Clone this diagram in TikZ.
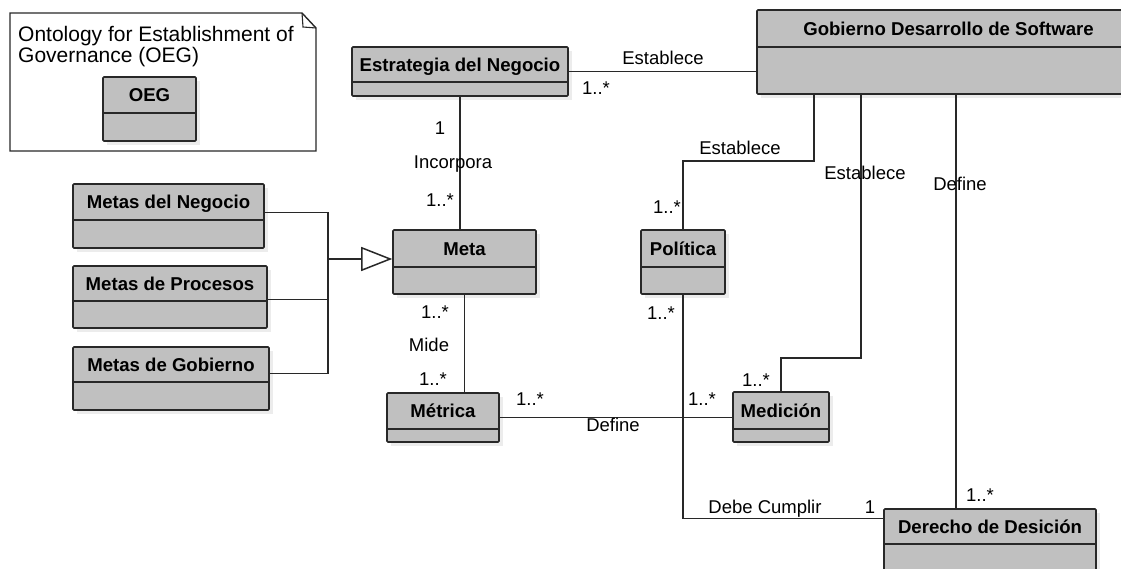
\documentclass[tikz,border=0pt]{standalone}
\usepackage{fontspec}
\setmainfont{Liberation Sans}
\usetikzlibrary{arrows.meta,calc,fit}
\definecolor{classfill}{RGB}{192,192,192}
\definecolor{ink}{RGB}{40,40,40}
\definecolor{shadowc}{RGB}{236,236,236}
\tikzset{
  classbox/.style={draw=ink, fill=classfill, line width=1.6pt, inner sep=0pt, rounded corners=1pt},
  classtitle/.style={font=\fontsize{18.6}{20}\selectfont\bfseries, inner sep=0pt, text height=13.4pt, text depth=0pt},
  lab/.style={font=\fontsize{18.5}{20}\selectfont, inner sep=0pt, text height=13.3pt, text depth=0pt},
  notetext/.style={font=\fontsize{21}{21}\selectfont, inner sep=0pt, anchor=base west},
  conn/.style={draw=ink, line width=1.3pt},
  sep/.style={draw=ink, line width=1.6pt}
}
\newcommand\umlclass[7]{%
  \fill[shadowc] ({#2+4},{#3+4}) rectangle ({#4+4},{#5+4});
  \node[classbox, fit={(#2,#3) (#4,#5)}] (#1) {};
  \draw[sep] (#2,#6) -- (#4,#6);
  \node[classtitle] (#1-t) at ({(#2+#4)/2},{(#3+#6)/2}) {#7};
}
\begin{document}
\begin{tikzpicture}[x=1pt,y=-1pt]
\useasboundingbox (0,0) rectangle (1121,569);
\clip (0,0) rectangle (1121,569);
\fill[white] (0,0) rectangle (1121,569);

% note
\draw[ink, line width=1.4pt] (10,13) -- (302,13) -- (316,28) -- (316,151) -- (10,151) -- cycle;
\draw[ink, line width=1.1pt] (302,13) -- (303,27) -- (316,28);
\node[notetext] (note1) at (18,42) {Ontology for Establishment of};
\node[notetext] (note2) at (18,63) {Governance (OEG)};
\umlclass{oeg}{103}{77}{196}{141}{113}{OEG}

% classes
\umlclass{est}{352}{47}{568}{96}{82}{Estrategia del Negocio}
\umlclass{gob}{757}{10}{1140}{94}{47}{Gobierno Desarrollo de Software}
\umlclass{mneg}{73}{184}{264}{248}{220}{Metas del Negocio}
\umlclass{mpro}{73}{266}{267}{328}{301}{Metas de Procesos}
\umlclass{mgob}{73}{347}{269}{410}{382}{Metas de Gobierno}
\umlclass{meta}{393}{230}{536}{294}{267}{Meta}
\umlclass{pol}{641}{230}{725}{294}{267}{Política}
\umlclass{metr}{387}{393}{499}{442}{429}{Métrica}
\umlclass{med}{733}{392}{829}{442}{429}{Medición}
\umlclass{der}{884}{509}{1096}{600}{544}{Derecho de Desición}

% coordinates for bends
\coordinate (jn) at (328,259);
\coordinate (b1) at (814,161);
\coordinate (b2) at (861,358);
\coordinate (b3) at (956,300);
\coordinate (pneg) at ($(mneg.north east)+(0,29)$);
\coordinate (ppro) at ($(mpro.north east)+(0,34)$);
\coordinate (pgob) at ($(mgob.north east)+(0,27)$);
\coordinate (pder) at ($(der.north west)+(0,10)$);

% Estrategia -- Gobierno
\draw[conn] (est.east) -- (est.east -| gob.west);
\node[lab] (l1) at (663,58) {Establece};
\node[lab] (m1) at (596,88) {1..*};

% Estrategia -- Meta
\draw[conn] (est.south) -- (est.south |- meta.north);
\node[lab] (m2) at (440,128) {1};
\node[lab] (l2) at (453,162) {Incorpora};
\node[lab] (m3) at (440,200) {1..*};

% generalization
\draw[conn] (pneg) -| (jn);
\draw[conn] (pgob) -| (jn);
\draw[conn] (ppro) -- (ppro -| jn);
\draw[draw=ink, line width=2.6pt, -{Triangle[open, length=31pt, width=24pt, line width=1.5pt]}] (jn) -- (jn -| meta.west);

% Meta -- Metrica
\draw[conn] (meta.south) -- (meta.south |- metr.north);
\node[lab] (m4) at (435,312) {1..*};
\node[lab] (l3) at (429,345) {Mide};
\node[lab] (m5) at (433,379) {1..*};

% Metrica -- Medicion
\draw[conn] (metr.east) -- (metr.east -| med.west);
\node[lab] (m6) at (530,399) {1..*};
\node[lab] (l4) at (613,425) {Define};
\node[lab] (m7) at (702,399) {1..*};

% Gobierno -- Politica
\draw[conn] (b1 |- gob.south) -- (b1) -| (pol.north);
\node[lab] (l5) at (740,148) {Establece};
\node[lab] (m8) at (667,207) {1..*};

% Gobierno -- Medicion
\draw[conn] (b2 |- gob.south) -- (b2) -| (med.north);
\node[lab] (l6) at (865,173) {Establece};
\node[lab] (m9) at (756,380) {1..*};

% Gobierno -- Derecho
\draw[conn] (b3 |- gob.south) -- (b3 |- der.north);
\node[lab] (l7) at (960,184) {Define};
\node[lab] (m10) at (980,495) {1..*};

% Politica -- Derecho
\draw[conn] (pol.south) |- (pder);
\node[lab] (m11) at (661,313) {1..*};
\node[lab] (l8) at (765,507) {Debe Cumplir};
\node[lab] (m12) at (870,507) {1};
\end{tikzpicture}
\end{document}
